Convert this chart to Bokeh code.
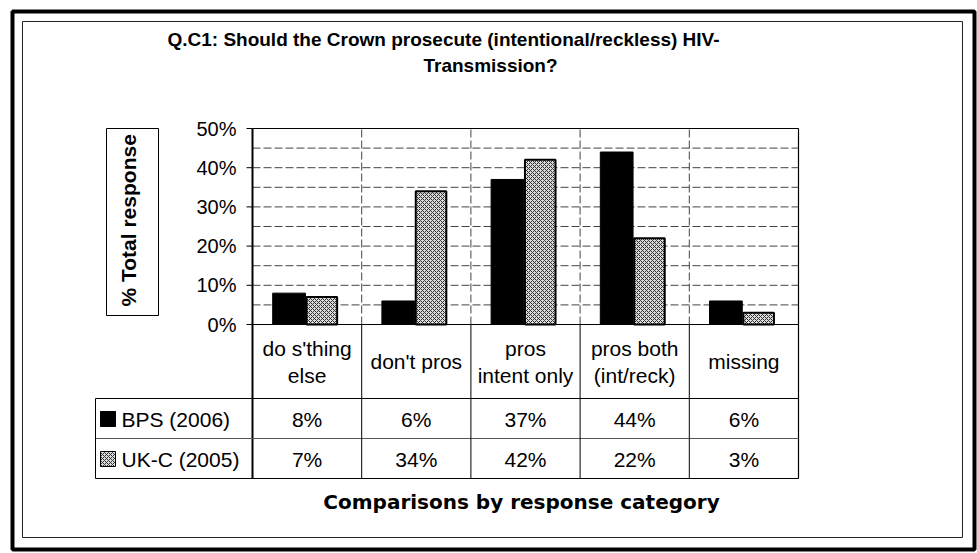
import math

from bokeh.core.properties import value
from bokeh.embed import file_html
from bokeh.models import ColumnDataSource, Range1d
from bokeh.plotting import figure
from bokeh.resources import INLINE

# ---- data -------------------------------------------------------------
categories = ["do s'thing\nelse", "don't pros", "pros\nintent only",
              "pros both\n(int/reck)", "missing"]
bps_2006 = [8, 6, 37, 44, 6]
ukc_2005 = [7, 34, 42, 22, 3]
series_names = ["BPS (2006)", "UK-C (2005)"]
y_ticks = [0, 10, 20, 30, 40, 50]
y_max = 50

title_lines = ["Q.C1: Should the Crown prosecute (intentional/reckless) HIV-",
               "Transmission?"]
y_title = "% Total response"
x_title = "Comparisons by response category"

# ---- page geometry (screen pixels) ------------------------------------
W, H = 977, 553
PLOT_L, PLOT_B = 252, 324          # left edge / zero line of the bar area
CAT_W = 109.2                      # pixels per category
PCT_H = 3.92                       # pixels per percent
n = len(categories)


def X(px):
    return (px - PLOT_L) / CAT_W


def Y(py):
    return (PLOT_B - py) / PCT_H


p = figure(width=W, height=H, output_backend="svg", toolbar_location=None,
           x_range=Range1d(X(0), X(W)), y_range=Range1d(Y(H), Y(0)),
           x_axis_location=None, y_axis_location=None,
           min_border=0, min_border_left=0, min_border_right=0,
           min_border_top=0, min_border_bottom=0)
p.grid.visible = False
p.outline_line_color = None
p.background_fill_color = "white"
p.border_fill_color = "white"

FONT = value("Liberation Sans")
WIDE_FONT = value("DejaVu Sans")
HATCH = dict(fill_color="#dcdcdc", hatch_pattern="diagonal_cross",
             hatch_color="#2e2e2e", hatch_scale=4, hatch_weight=1)

# ---- outer frames -----------------------------------------------------
p.quad(left=[X(12)], right=[X(974)], top=[Y(11)], bottom=[Y(549)],
       fill_color=None, line_color="black", line_width=4)
p.quad(left=[X(22)], right=[X(962)], top=[Y(21)], bottom=[Y(537)],
       fill_color=None, line_color="#222222", line_width=1)

# ---- gridlines --------------------------------------------------------
grid_vals = [v for v in range(5, y_max, 5)]
p.segment(x0=[0] * len(grid_vals), x1=[n] * len(grid_vals),
          y0=grid_vals, y1=grid_vals, line_color="#444444",
          line_width=1, line_dash="8 3")
inner = list(range(1, n))
p.segment(x0=inner, x1=inner, y0=[0] * len(inner), y1=[y_max] * len(inner),
          line_color="#444444", line_width=1, line_dash="8 3")

# ---- bars -------------------------------------------------------------
idx = list(range(n))
src = ColumnDataSource(dict(
    xb=[i + 0.335 for i in idx], xu=[i + 0.635 for i in idx],
    bps=bps_2006, ukc=ukc_2005))
p.vbar(x="xb", top="bps", bottom=0, width=0.30, source=src,
       fill_color="black", line_color="black", line_width=1)
p.vbar(x="xu", top="ukc", bottom=0, width=0.28, source=src,
       line_color="black", line_width=2, **HATCH)

# ---- plot box and y axis ----------------------------------------------
p.segment(x0=[0, 0, n], x1=[n, n, n], y0=[0, y_max, Y(478)],
          y1=[0, y_max, y_max], line_color="black", line_width=1.2)
p.segment(x0=[0], x1=[0], y0=[Y(478)], y1=[y_max],
          line_color="black", line_width=2)
p.segment(x0=[X(246)] * len(y_ticks), x1=[0] * len(y_ticks),
          y0=y_ticks, y1=y_ticks, line_color="black", line_width=1)
p.text(x=[X(236)] * len(y_ticks), y=y_ticks,
       text=[f"{t}%" for t in y_ticks], text_align="right",
       text_baseline="middle", text_font=FONT, text_font_size="20px",
       text_color="black")

# y axis title in its box
p.quad(left=[X(106)], right=[X(158)], top=[Y(128)], bottom=[Y(315)],
       fill_color=None, line_color="black", line_width=1)
p.text(x=[X(128)], y=[Y(306)], text=[y_title], angle=math.pi / 2,
       text_align="left", text_baseline="middle", text_font=FONT,
       text_font_style="bold", text_font_size="21px", text_color="black")

# ---- chart title ------------------------------------------------------
p.text(x=[X(443), X(490)], y=[Y(39), Y(65)], text=title_lines,
       text_align="center", text_baseline="middle", text_font=FONT,
       text_font_style="bold", text_font_size="19px", text_color="black")

# ---- data table -------------------------------------------------------
ROW1, ROW2, ROW3 = 398, 438, 478
LEG_L = 95
p.segment(x0=[X(LEG_L)] * 3, x1=[n] * 3, y0=[Y(ROW1), Y(ROW2), Y(ROW3)],
          y1=[Y(ROW1), Y(ROW2), Y(ROW3)],
          line_color=["black", "#555555", "black"], line_width=1)
p.segment(x0=inner, x1=inner, y0=[0] * len(inner), y1=[Y(ROW3)] * len(inner),
          line_color="black", line_width=1)
p.segment(x0=[X(LEG_L)], x1=[X(LEG_L)], y0=[Y(ROW1)], y1=[Y(ROW3)],
          line_color="black", line_width=1)

# category header cells
hx, hy, ht = [], [], []
mid = (PLOT_B + ROW1) / 2
for i, cat in enumerate(categories):
    lines = cat.split("\n")
    for k, line in enumerate(lines):
        off = (k - (len(lines) - 1) / 2) * 27
        hx.append(i + 0.5)
        hy.append(Y(mid + off))
        ht.append(line)
p.text(x=hx, y=hy, text=ht, text_align="center", text_baseline="middle",
       text_font=FONT, text_font_size="21px", text_color="black")

# value rows
row_mid = [(ROW1 + ROW2) / 2, (ROW2 + ROW3) / 2]
for series, ym in zip([bps_2006, ukc_2005], row_mid):
    p.text(x=[i + 0.5 for i in idx], y=[Y(ym + 1)] * n,
           text=[f"{v}%" for v in series], text_align="center",
           text_baseline="middle", text_font=FONT, text_font_size="21px",
           text_color="black")

# legend keys and names
p.quad(left=[X(100)], right=[X(115)], top=[Y(row_mid[0] - 7)],
       bottom=[Y(row_mid[0] + 8)], fill_color="black", line_color="black")
p.quad(left=[X(100)], right=[X(115)], top=[Y(row_mid[1] - 7)],
       bottom=[Y(row_mid[1] + 8)], line_color="black", line_width=1,
       **HATCH)
p.text(x=[X(121)] * 2, y=[Y(row_mid[0] + 1), Y(row_mid[1] + 1)],
       text=series_names, text_align="left", text_baseline="middle",
       text_font=FONT, text_font_size="21px", text_color="black")

# x axis title
p.text(x=[X(521)], y=[Y(501)], text=[x_title], text_align="center",
       text_baseline="middle", text_font=WIDE_FONT, text_font_style="bold",
       text_font_size="20px", text_color="black")

open("out.html", "w").write(file_html(p, INLINE))
